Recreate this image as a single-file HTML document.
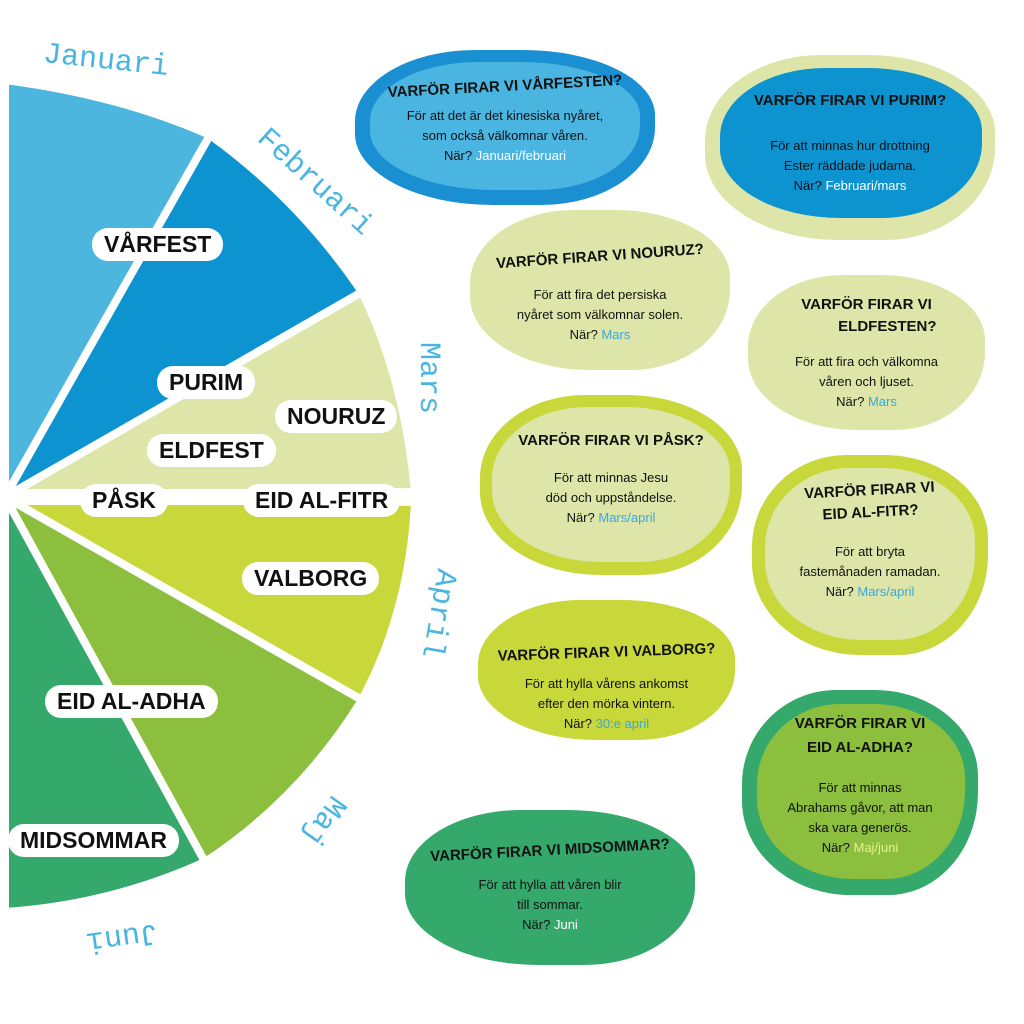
<!DOCTYPE html>
<html><head><meta charset="utf-8"><style>
body{margin:0;width:1024px;height:1024px;background:#fff;position:relative;overflow:hidden;font-family:"Liberation Sans",sans-serif}
.b{position:absolute;border-radius:40% 44% 38% 46%/46% 42% 50% 46%}
.in{position:absolute;border-radius:40% 44% 38% 46%/46% 42% 50% 46%}
.t{position:absolute;left:0;right:0;text-align:center;color:#111}
.h{font-family:"Liberation Sans Narrow","Liberation Sans",sans-serif;font-weight:bold;font-size:15px;}
.p{font-size:13px;line-height:20px;font-family:"Liberation Sans Narrow","Liberation Sans",sans-serif}
.lb{color:#3aa7dc}.wh{color:#fff}
.pill{position:absolute;background:#fff;border-radius:16px;font-weight:bold;font-size:23px;font-family:"Liberation Sans Narrow","Liberation Sans",sans-serif;padding:3px 12px;color:#111;white-space:nowrap}
.m{position:absolute;color:#4ab5e0;font-size:30px;font-family:"Liberation Mono",monospace;white-space:nowrap;transform-origin:left top}
</style></head><body>
<svg width="1024" height="1024" style="position:absolute;left:0;top:0">
<g stroke="#fff" stroke-width="8" stroke-linejoin="round">
<path d="M5,497 L5,80 Q120,95 210,135 Z" fill="#4cb6df"/>
<path d="M5,497 L210,135 Q300,200 362,292 Z" fill="#0d93d0"/>
<path d="M5,497 L362,292 Q405,380 415,492 Z" fill="#dde6a8"/>
<path d="M5,497 L415,502 Q410,610 362,700 Z" fill="#c8d73a"/>
<path d="M5,497 L362,700 Q300,800 205,862 Z" fill="#8cbf3e"/>
<path d="M5,497 L205,862 Q110,905 5,912 Z" fill="#35a86c"/>
</g>
<rect x="15" y="489" width="400" height="16" fill="#fff"/>
</svg>
<div class="pill" style="left:92px;top:228px">VÅRFEST</div>
<div class="pill" style="left:157px;top:366px">PURIM</div>
<div class="pill" style="left:275px;top:400px">NOURUZ</div>
<div class="pill" style="left:147px;top:434px">ELDFEST</div>
<div class="pill" style="left:80px;top:484px">PÅSK</div>
<div class="pill" style="left:243px;top:484px">EID AL-FITR</div>
<div class="pill" style="left:242px;top:562px">VALBORG</div>
<div class="pill" style="left:45px;top:685px">EID AL-ADHA</div>
<div class="pill" style="left:8px;top:824px">MIDSOMMAR</div>

<div class="m" style="left:45px;top:38px;transform:rotate(6deg)">Januari</div>
<div class="m" style="left:272px;top:122px;transform:rotate(42deg)">Februari</div>
<div class="m" style="left:445px;top:342px;transform:rotate(90deg)">Mars</div>
<div class="m" style="left:462px;top:572px;transform:rotate(100deg)">April</div>
<div class="m" style="left:352px;top:808px;transform:rotate(125deg)">Maj</div>
<div class="m" style="left:160px;top:948px;transform:rotate(172deg)">Juni</div>

<div class="b" style="left:355px;top:50px;width:300px;height:155px;background:#1a8fd1"></div>
<div class="in" style="left:370px;top:62px;width:270px;height:128px;background:#4ab5e0"></div>
<div class="t h" style="left:355px;width:300px;top:78px;transform:rotate(-3deg)">VARFÖR FIRAR VI VÅRFESTEN?</div>
<div class="t p" style="left:355px;width:300px;top:106px">För att det är det kinesiska nyåret,<br>som också välkomnar våren.<br>När? <span class="wh">Januari/februari</span></div>

<div class="b" style="left:705px;top:55px;width:290px;height:185px;background:#dde6a8"></div>
<div class="in" style="left:720px;top:68px;width:262px;height:150px;background:#0d93d0"></div>
<div class="t h" style="left:705px;width:290px;top:92px">VARFÖR FIRAR VI PURIM?</div>
<div class="t p" style="left:705px;width:290px;top:136px">För att minnas hur drottning<br>Ester räddade judarna.<br>När? <span class="wh">Februari/mars</span></div>

<div class="b" style="left:470px;top:210px;width:260px;height:160px;background:#dde6a8"></div>
<div class="t h" style="left:470px;width:260px;top:248px;transform:rotate(-4deg)">VARFÖR FIRAR VI NOURUZ?</div>
<div class="t p" style="left:470px;width:260px;top:285px">För att fira det persiska<br>nyåret som välkomnar solen.<br>När? <span class="lb">Mars</span></div>

<div class="b" style="left:748px;top:275px;width:237px;height:155px;background:#dde6a8"></div>
<div class="t h" style="left:748px;width:237px;top:294px;line-height:22px">VARFÖR FIRAR VI<br>&nbsp;&nbsp;&nbsp;&nbsp;&nbsp;&nbsp;&nbsp;&nbsp;&nbsp;&nbsp;ELDFESTEN?</div>
<div class="t p" style="left:748px;width:237px;top:352px">För att fira och välkomna<br>våren och ljuset.<br>När? <span class="lb">Mars</span></div>

<div class="b" style="left:480px;top:395px;width:262px;height:180px;background:#c8d73a"></div>
<div class="in" style="left:492px;top:407px;width:238px;height:155px;background:#dde6a8"></div>
<div class="t h" style="left:480px;width:262px;top:432px">VARFÖR FIRAR VI PÅSK?</div>
<div class="t p" style="left:480px;width:262px;top:468px">För att minnas Jesu<br>död och uppståndelse.<br>När? <span class="lb">Mars/april</span></div>

<div class="b" style="left:752px;top:455px;width:236px;height:200px;background:#c8d73a"></div>
<div class="in" style="left:765px;top:468px;width:210px;height:172px;background:#dde6a8"></div>
<div class="t h" style="left:752px;width:236px;top:480px;line-height:22px;transform:rotate(-3deg)">VARFÖR FIRAR VI<br>EID AL-FITR?</div>
<div class="t p" style="left:752px;width:236px;top:542px">För att bryta<br>fastemånaden ramadan.<br>När? <span class="lb">Mars/april</span></div>

<div class="b" style="left:478px;top:600px;width:257px;height:140px;background:#c8d73a"></div>
<div class="t h" style="left:478px;width:257px;top:644px;transform:rotate(-2deg)">VARFÖR FIRAR VI VALBORG?</div>
<div class="t p" style="left:478px;width:257px;top:674px">För att hylla vårens ankomst<br>efter den mörka vintern.<br>När? <span class="lb">30:e april</span></div>

<div class="b" style="left:742px;top:690px;width:236px;height:205px;background:#35a86c"></div>
<div class="in" style="left:757px;top:704px;width:208px;height:175px;background:#8cbf3e"></div>
<div class="t h" style="left:742px;width:236px;top:712px;line-height:24px">VARFÖR FIRAR VI<br>EID AL-ADHA?</div>
<div class="t p" style="left:742px;width:236px;top:778px">För att minnas<br>Abrahams gåvor, att man<br>ska vara generös.<br>När? <span style="color:#e6ef90">Maj/juni</span></div>

<div class="b" style="left:405px;top:810px;width:290px;height:155px;background:#35a86c"></div>
<div class="t h" style="left:405px;width:290px;top:842px;transform:rotate(-3deg)">VARFÖR FIRAR VI MIDSOMMAR?</div>
<div class="t p" style="left:405px;width:290px;top:875px">För att hylla att våren blir<br>till sommar.<br>När? <span class="wh">Juni</span></div>
</body></html>
